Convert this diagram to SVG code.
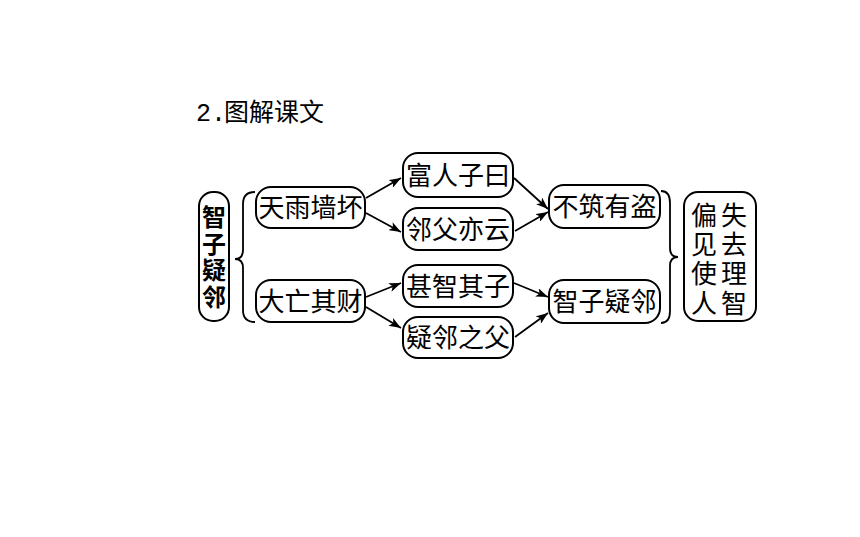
<svg xmlns="http://www.w3.org/2000/svg" width="860" height="537" viewBox="0 0 860 537">
<style>
.box{fill:#fff;stroke:#000;stroke-width:2}
.t{font-family:"Noto Sans CJK SC","Noto Sans CJK JP",sans-serif;font-size:26px;fill:#000;text-anchor:middle}
.v{font-family:"Noto Sans CJK SC","Noto Sans CJK JP",sans-serif;fill:#000;writing-mode:vertical-rl;text-anchor:start}
.line{stroke:#000;stroke-width:1.8;fill:none}
.brace{stroke:#000;stroke-width:1.8;fill:none}
</style>
<defs>
<marker id="ah" markerUnits="userSpaceOnUse" markerWidth="13" markerHeight="9" refX="12" refY="4.5" orient="auto">
<path d="M0,0 L12,4.5 L0,9 L3,4.5 z" fill="#000"/>
</marker>
</defs>
<rect width="860" height="537" fill="#fff"/>
<text id="title" x="196" y="121" font-family="Liberation Mono,'Noto Sans CJK SC',monospace" font-size="25" fill="#000">2.<tspan font-family="'Noto Sans CJK SC',sans-serif" dx="-2">图解课文</tspan></text>

<g id="n_zhizi_v">
<rect class="box" x="199" y="192" width="30" height="129" rx="14"/>
<text class="v" x="214" y="205" font-size="24" font-weight="bold" letter-spacing="2.6">智子疑邻</text>
</g>
<g id="brace_left"><path class="brace" d="M255,192 Q243,192 243,204 L243,250 Q243,259 235,259 Q243,259 243,268 L243,310 Q243,322 255,322"/></g>

<g id="n_tianyu"><rect class="box" x="256" y="187" width="109" height="41" rx="15"/><text class="t" x="310.5" y="217">天雨墙坏</text></g>
<g id="n_dawang"><rect class="box" x="256" y="280" width="109" height="42" rx="15"/><text class="t" x="310.5" y="311">大亡其财</text></g>
<g id="n_furen"><rect class="box" x="403" y="153" width="110" height="44" rx="15"/><text class="t" x="458" y="185">富人子曰</text></g>
<g id="n_linfu"><rect class="box" x="403" y="208" width="110" height="42" rx="15"/><text class="t" x="458" y="239">邻父亦云</text></g>
<g id="n_shenzhi"><rect class="box" x="403" y="265" width="110" height="42" rx="15"/><text class="t" x="458" y="296">甚智其子</text></g>
<g id="n_yilin"><rect class="box" x="403" y="317" width="110" height="41" rx="15"/><text class="t" x="458" y="347">疑邻之父</text></g>
<g id="n_buzhu"><rect class="box" x="549" y="185" width="111" height="43" rx="15"/><text class="t" x="604.5" y="216">不筑有盗</text></g>
<g id="n_zhizi"><rect class="box" x="549" y="280" width="111" height="43" rx="15"/><text class="t" x="604.5" y="311">智子疑邻</text></g>

<g id="brace_right"><path class="brace" d="M661,191 Q670,191 670,203 L670,248 Q670,257 678,257 Q670,257 670,266 L670,311 Q670,323 661,323"/></g>

<g id="n_pianjian">
<rect class="box" x="684" y="192" width="72" height="129" rx="14"/>
<text class="v" x="704" y="202" font-size="26" letter-spacing="3.3">偏见使人</text>
<text class="v" x="734" y="202" font-size="26" letter-spacing="3.3">失去理智</text>
</g>

<g id="connectors">
<line class="line" x1="366" y1="198" x2="401" y2="178" marker-end="url(#ah)"/>
<line class="line" x1="366" y1="213" x2="401" y2="232" marker-end="url(#ah)"/>
<line class="line" x1="366" y1="297" x2="401" y2="283" marker-end="url(#ah)"/>
<line class="line" x1="366" y1="307" x2="401" y2="328" marker-end="url(#ah)"/>
<line class="line" x1="514" y1="178" x2="548" y2="209" marker-end="url(#ah)"/>
<line class="line" x1="515" y1="231" x2="548" y2="212" marker-end="url(#ah)"/>
<line class="line" x1="514" y1="283" x2="548" y2="297" marker-end="url(#ah)"/>
<line class="line" x1="515" y1="337" x2="548" y2="313" marker-end="url(#ah)"/>
</g>
</svg>
